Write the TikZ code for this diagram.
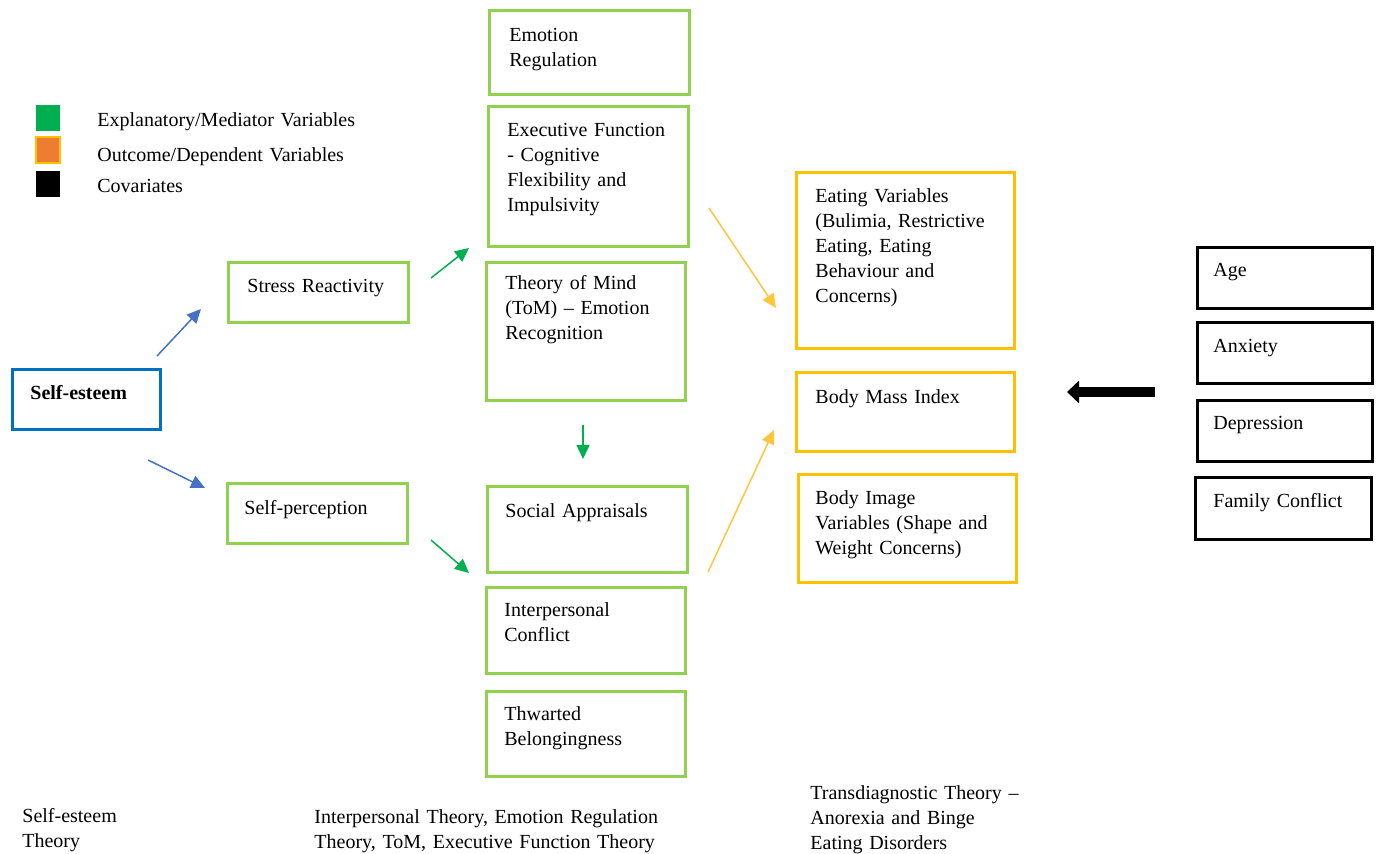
\documentclass[tikz,border=0pt]{standalone}
\usepackage{fontspec}
\setmainfont{Liberation Serif}
\usetikzlibrary{arrows.meta,calc}
\definecolor{gborder}{HTML}{92D050}
\definecolor{gdark}{HTML}{00B050}
\definecolor{bborder}{HTML}{0070C0}
\definecolor{barrow}{HTML}{4472C4}
\definecolor{yborder}{HTML}{FFC000}
\definecolor{yarrow}{HTML}{FFC53D}
\definecolor{oleg}{HTML}{ED7D31}
\tikzset{
  boxbase/.style={draw, line width=1.5pt, inner sep=0pt, outer sep=0pt, rectangle},
  gbox/.style={boxbase, draw=gborder},
  ybox/.style={boxbase, draw=yborder},
  bbox/.style={boxbase, draw=bborder},
  kbox/.style={boxbase, draw=black},
  txt/.style={anchor=base west, inner sep=0pt, align=left, text width=250pt,
    font=\fontsize{10pt}{12.5pt}\selectfont},
  arr/.style={line width=0.75pt, -{Triangle[length=7pt 0 0, width=6.5pt 0 0]}},
  legsq/.style={inner sep=0pt, outer sep=0pt, rectangle, anchor=north west,
    minimum width=12pt, minimum height=13pt}
}
\newcommand\mybox[6]{%
  \node[#1, anchor=north west, minimum width={(#5-#3)*0.5pt},
        minimum height={(#6-#4)*0.5pt}] (#2) at (#3,#4) {};}
\begin{document}
\begin{tikzpicture}[x=0.5pt, y=-0.5pt]
\useasboundingbox (0,0) rectangle (1380,854);

% legend
\node[legsq, fill=gdark] (lg1) at (36,105) {};
\node[legsq, fill=oleg, draw=yborder, line width=1pt] (lg2) at (36,137) {};
\node[legsq, fill=black] (lg3) at (36,171) {};
\node[txt] (lt1) at (97,127) {Explanatory/Mediator Variables};
\node[txt] (lt2) at (97,162) {Outcome/Dependent Variables};
\node[txt] (lt3) at (97,193) {Covariates};

% self-esteem column
\mybox{bbox}{se}{12}{370}{160}{430}
\node[txt] (se-t) at (30,400) {\textbf{Self-esteem}};

\mybox{gbox}{stress}{228}{263}{408}{323}
\node[txt] (stress-t) at (247,293) {Stress Reactivity};
\mybox{gbox}{sp}{227}{484}{407}{544}
\node[txt] (sp-t) at (244,515) {Self-perception};

% middle column
\mybox{gbox}{emo}{489}{11}{689}{95}
\node[txt] (emo-t) at (509,42) {Emotion\\Regulation};
\mybox{gbox}{exec}{488}{107}{688}{247}
\node[txt] (exec-t) at (507,137) {Executive Function\\- Cognitive\\Flexibility and\\Impulsivity};
\mybox{gbox}{tom}{486}{263}{685}{401}
\node[txt] (tom-t) at (505,290) {Theory of Mind\\(ToM) – Emotion\\Recognition};
\mybox{gbox}{soc}{487}{487}{687}{573}
\node[txt] (soc-t) at (505,518) {Social Appraisals};
\mybox{gbox}{inter}{486}{588}{685}{673}
\node[txt] (inter-t) at (504,617) {Interpersonal\\Conflict};
\mybox{gbox}{thw}{486}{691}{685}{776}
\node[txt] (thw-t) at (504,720) {Thwarted\\Belongingness};

% outcomes
\mybox{ybox}{eat}{796}{173}{1014}{349}
\node[txt] (eat-t) at (815,203) {Eating Variables\\(Bulimia, Restrictive\\Eating, Eating\\Behaviour and\\Concerns)};
\mybox{ybox}{bmi}{796}{373}{1014}{452}
\node[txt] (bmi-t) at (815,404) {Body Mass Index};
\mybox{ybox}{bimg}{798}{475}{1016}{583}
\node[txt] (bimg-t) at (815,505) {Body Image\\Variables (Shape and\\Weight Concerns)};

% covariates
\mybox{kbox}{age}{1197}{248}{1372}{309}
\node[txt] (age-t) at (1213,277) {Age};
\mybox{kbox}{anx}{1197}{323}{1372}{384}
\node[txt] (anx-t) at (1213,353) {Anxiety};
\mybox{kbox}{dep}{1197}{401}{1372}{462}
\node[txt] (dep-t) at (1213,430) {Depression};
\mybox{kbox}{fam}{1195}{478}{1371}{540}
\node[txt] (fam-t) at (1213,508) {Family Conflict};

% arrow end points
\coordinate (b1s) at (157,356); \coordinate (b1e) at (201,309);
\coordinate (b2s) at (148,460); \coordinate (b2e) at (205,488);
\coordinate (g1s) at (431,278); \coordinate (g1e) at (469,248);
\coordinate (g2s) at (431,540); \coordinate (g2e) at (469,573);
\coordinate (g3s) at (583,425); \coordinate (g3e) at (583,459);
\coordinate (y1s) at (709,208); \coordinate (y1e) at (776,308);
\coordinate (y2s) at (708,572); \coordinate (y2e) at (774,430);
\coordinate (ks) at (1155,392); \coordinate (ke) at (1067,392);

\draw[arr, barrow] (b1s) -- (b1e);
\draw[arr, barrow] (b2s) -- (b2e);
\draw[arr, gdark] (g1s) -- (g1e);
\draw[arr, gdark] (g2s) -- (g2e);
\draw[arr, gdark] (g3s) -- (g3e);
\draw[arr, yarrow] (y1s) -- (y1e);
\draw[arr, yarrow] (y2s) -- (y2e);
\draw[line width=5.3pt, -{Triangle[length=6pt 0 0, width=11pt 0 0]}] (ks) -- (ke);

% theory captions
\node[txt] (cap1) at (22,822) {Self-esteem\\Theory};
\node[txt] (cap2) at (314,823) {Interpersonal Theory, Emotion Regulation\\Theory, ToM, Executive Function Theory};
\node[txt] (cap3) at (810,799) {Transdiagnostic Theory –\\Anorexia and Binge\\Eating Disorders};
\end{tikzpicture}
\end{document}
